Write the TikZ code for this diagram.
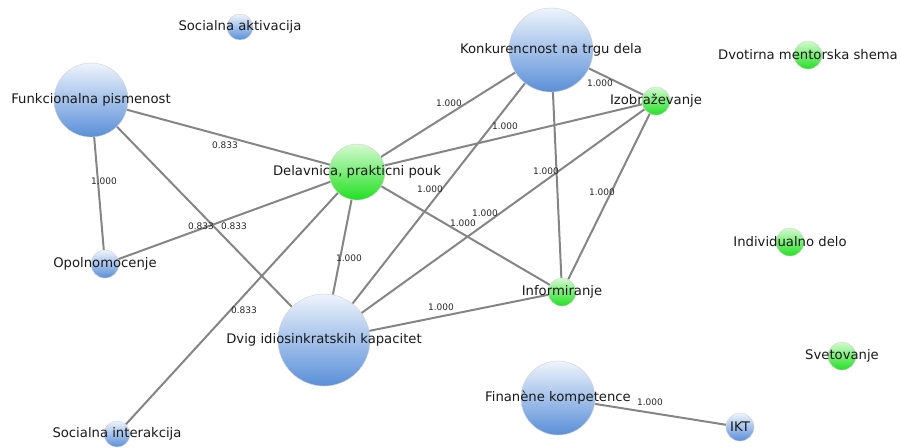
\documentclass[tikz,border=0pt]{standalone}
\usepackage{fontspec}
\setmainfont{DejaVu Sans}
\usepackage{xcolor}
\usetikzlibrary{backgrounds}

\definecolor{bluetop}{HTML}{EEF4FC}
\definecolor{bluebot}{HTML}{5A8FD8}
\definecolor{greentop}{HTML}{D4FAD0}
\definecolor{greenbot}{HTML}{22E022}
\definecolor{edgegray}{HTML}{858585}

\tikzset{
  bnode/.style={circle,draw=black!18,inner sep=0pt,top color=bluetop,bottom color=bluebot},
  gnode/.style={circle,draw=black!18,inner sep=0pt,top color=greentop,bottom color=greenbot},
  lbl/.style={font=\fontsize{13.2}{15}\selectfont,inner sep=0pt,text=black!90},
  wt/.style={font=\fontsize{9}{10}\selectfont,inner sep=0pt,text=black!85},
  link/.style={draw=edgegray,line width=2pt}
}

\begin{document}
\begin{tikzpicture}[x=1pt,y=-1pt]
  \useasboundingbox (0,0) rectangle (901,447);

  \node[bnode,minimum size=26pt,label={[lbl]center:Socialna aktivacija}] (sa)   at (240,27)  {};
  \node[bnode,minimum size=74pt,label={[lbl]center:Funkcionalna pismenost}] (fp) at (91,100) {};
  \node[bnode,minimum size=84pt,label={[lbl]center:Konkurencnost na trgu dela}] (kt) at (551,50) {};
  \node[gnode,minimum size=28pt,label={[lbl]center:Izobraževanje}] (iz) at (656,101) {};
  \node[gnode,minimum size=28pt,label={[lbl]center:Dvotirna mentorska shema}] (dm) at (808,55) {};
  \node[gnode,minimum size=56pt,label={[lbl]center:Delavnica, prakticni pouk}] (dp) at (357,172) {};
  \node[bnode,minimum size=28pt,label={[lbl]center:Opolnomocenje}] (op) at (105,264) {};
  \node[bnode,minimum size=92pt,label={[lbl]center:Dvig idiosinkratskih kapacitet}] (di) at (324,340) {};
  \node[bnode,minimum size=26pt,label={[lbl]center:Socialna interakcija}] (si) at (117,434) {};
  \node[gnode,minimum size=28pt,label={[lbl]center:Informiranje}] (in) at (562,292) {};
  \node[gnode,minimum size=28pt,label={[lbl]center:Individualno delo}] (id) at (790,242) {};
  \node[gnode,minimum size=28pt,label={[lbl]center:Svetovanje}] (sv) at (842,356) {};
  \node[bnode,minimum size=74pt,label={[lbl]center:Finanène kompetence}] (fk) at (558,398) {};
  \node[bnode,minimum size=28pt,label={[lbl]center:IKT}] (ik) at (740,427) {};

  \begin{scope}[on background layer]
    \draw[link] (fp) -- (dp);
    \draw[link] (fp) -- (op);
    \draw[link] (fp) -- (di);
    \draw[link] (op) -- (dp);
    \draw[link] (si) -- (dp);
    \draw[link] (dp) -- (di);
    \draw[link] (dp) -- (kt);
    \draw[link] (dp) -- (iz);
    \draw[link] (dp) -- (in);
    \draw[link] (kt) -- (di);
    \draw[link] (kt) -- (in);
    \draw[link] (kt) -- (iz);
    \draw[link] (iz) -- (di);
    \draw[link] (iz) -- (in);
    \draw[link] (di) -- (in);
    \draw[link] (fk) -- (ik);
  \end{scope}

  \node[wt] (w1)  at (225,145) {0.833};
  \node[wt] (w2)  at (104,181) {1.000};
  \node[wt] (w3)  at (234,226) {0.833};
  \node[wt] (w4)  at (201,226) {0.833};
  \node[wt] (w5)  at (244,310) {0.833};
  \node[wt] (w6)  at (349,258) {1.000};
  \node[wt] (w7)  at (449,103) {1.000};
  \node[wt] (w8)  at (505,126) {1.000};
  \node[wt] (w9)  at (463,223) {1.000};
  \node[wt] (w10) at (430,189) {1.000};
  \node[wt] (w11) at (546,171) {1.000};
  \node[wt] (w12) at (600,83)  {1.000};
  \node[wt] (w13) at (485,213) {1.000};
  \node[wt] (w14) at (602,192) {1.000};
  \node[wt] (w15) at (441,307) {1.000};
  \node[wt] (w16) at (650,402) {1.000};
\end{tikzpicture}
\end{document}
